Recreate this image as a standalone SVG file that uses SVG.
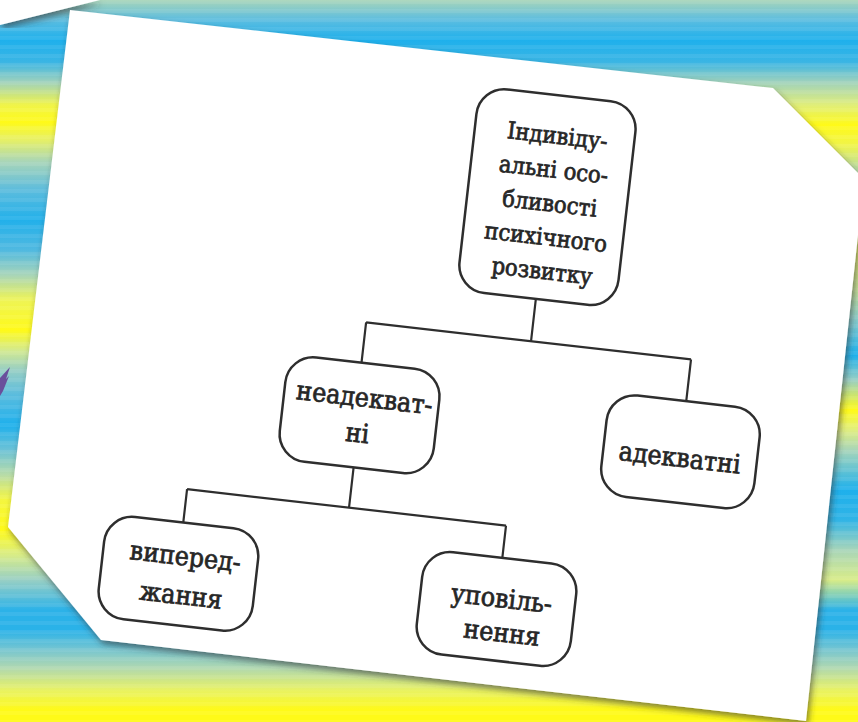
<svg xmlns="http://www.w3.org/2000/svg" width="858" height="722" viewBox="0 0 858 722">
<defs>
<linearGradient id="bgL" gradientUnits="userSpaceOnUse" x1="0" y1="0" x2="0" y2="722">
<stop offset="0" stop-color="#a8d5b9"/><stop offset=".0277" stop-color="#5cbde0"/><stop offset=".0554" stop-color="#1eb0ec"/><stop offset=".0859" stop-color="#3ab5e4"/><stop offset=".1136" stop-color="#a0d2bc"/><stop offset=".1454" stop-color="#f0f44a"/><stop offset=".169" stop-color="#fffa18"/><stop offset=".1939" stop-color="#e6f066"/><stop offset=".2244" stop-color="#a8d5b9"/><stop offset=".2632" stop-color="#5cbcdd"/><stop offset=".3047" stop-color="#22b0ea"/><stop offset=".3463" stop-color="#50b9e0"/><stop offset=".3809" stop-color="#a8d5b9"/><stop offset=".4155" stop-color="#eef456"/><stop offset=".4571" stop-color="#fffa18"/><stop offset=".4848" stop-color="#d4ea8e"/><stop offset=".5125" stop-color="#98cfc4"/><stop offset=".5471" stop-color="#5abcde"/><stop offset=".5886" stop-color="#1eb0ec"/><stop offset=".6233" stop-color="#6cc2d6"/><stop offset=".6579" stop-color="#b8dca8"/><stop offset=".6925" stop-color="#f4f640"/><stop offset=".7341" stop-color="#fffa18"/><stop offset=".7687" stop-color="#d8ec88"/><stop offset=".8033" stop-color="#98cfc4"/><stop offset=".8449" stop-color="#2cb2e8"/><stop offset=".8726" stop-color="#2ab2e8"/><stop offset=".9003" stop-color="#78c6d0"/><stop offset=".9252" stop-color="#b0d8b0"/><stop offset=".9557" stop-color="#e8f264"/><stop offset=".9834" stop-color="#fffa18"/><stop offset="1" stop-color="#fffa18"/>
</linearGradient>
<linearGradient id="bgR" gradientUnits="userSpaceOnUse" x1="0" y1="0" x2="0" y2="722">
<stop offset="0" stop-color="#a8d5b9"/><stop offset=".0277" stop-color="#5cbde0"/><stop offset=".0554" stop-color="#1eb0ec"/><stop offset=".0859" stop-color="#3ab5e4"/><stop offset=".1136" stop-color="#a0d2bc"/><stop offset=".1454" stop-color="#e0ee7a"/><stop offset=".1731" stop-color="#fffa18"/><stop offset=".2008" stop-color="#f0f44a"/><stop offset=".2355" stop-color="#b8dca8"/><stop offset=".3463" stop-color="#e6f066"/><stop offset=".4017" stop-color="#c8e49a"/><stop offset=".4432" stop-color="#88cccc"/><stop offset=".4917" stop-color="#1eb0ec"/><stop offset=".5263" stop-color="#98cfc4"/><stop offset=".5679" stop-color="#fffa18"/><stop offset=".5956" stop-color="#e0ee80"/><stop offset=".6233" stop-color="#a8d5b9"/><stop offset=".6787" stop-color="#1eb0ec"/><stop offset=".7202" stop-color="#30b4e6"/><stop offset=".7618" stop-color="#a8d5b9"/><stop offset=".8033" stop-color="#d8ec88"/><stop offset=".8449" stop-color="#2cb2e8"/><stop offset=".8726" stop-color="#2ab2e8"/><stop offset=".9003" stop-color="#78c6d0"/><stop offset=".9252" stop-color="#b0d8b0"/><stop offset=".9557" stop-color="#e8f264"/><stop offset=".9834" stop-color="#fffa18"/><stop offset="1" stop-color="#fffa18"/>
</linearGradient>
<pattern id="stripes" patternUnits="userSpaceOnUse" width="20" height="9">
<rect x="0" y="0" width="20" height="4" fill="#ffffff" fill-opacity="0.07"/>
</pattern>
<filter id="shadow" x="-10%" y="-10%" width="120%" height="120%">
<feDropShadow dx="2" dy="4" stdDeviation="3" flood-color="#333333" flood-opacity="0.6"/>
</filter>
<style>
.box{fill:#ffffff;stroke:#2e2e2e;stroke-width:2.5}
.conn{fill:none;stroke:#2e2e2e;stroke-width:2.2}
.t{font-family:"DejaVu Serif Condensed","DejaVu Serif",serif;fill:#262626;stroke:#262626;stroke-width:0.7;text-anchor:middle}
.t1{font-size:23.5px}
.t2{font-size:26.5px}
</style>
</defs>
<g id="background">
<rect x="0" y="0" width="430" height="722" fill="url(#bgL)"/>
<rect x="430" y="0" width="428" height="722" fill="url(#bgR)"/>
<rect x="0" y="0" width="858" height="722" fill="url(#stripes)"/>
<polygon points="0,378 10,367 6,379 9,376 3,391 0,396" fill="#6a4f9c"/>
<polygon points="0,0 100,0 0,25" fill="#ffffff" filter="url(#shadow)"/>
<polygon points="70,10 773,88 864,179 806,721 101,640 8,527" fill="#ffffff" filter="url(#shadow)"/>
</g>
<g id="diagram" transform="rotate(6.5 430 380)">
<g id="connectors">
<path class="conn" d="M526,287.5 V330 M360,330 H687 M360,330 V370.5 M687,330 V372"/>
<path class="conn" d="M364,475.5 V516 M201,516 H522 M201,516 V549.5 M522,516 V548.5"/>
</g>
<g id="node-root">
<rect class="box" x="446" y="82.5" width="160" height="205" rx="28"/>
<text class="t t1" x="529" y="131">Індивіду-</text>
<text class="t t1" x="529" y="165">альні осо-</text>
<text class="t t1" x="529" y="199">бливості</text>
<text class="t t1" x="529" y="233">психічного</text>
<text class="t t1" x="529" y="267">розвитку</text>
</g>
<g id="node-neadekvatni">
<rect class="box" x="286.5" y="370.5" width="155" height="105" rx="28"/>
<text class="t t2" x="367" y="414">неадекват-</text>
<text class="t t2" x="364" y="450">ні</text>
</g>
<g id="node-adekvatni">
<rect class="box" x="610" y="372" width="154" height="102" rx="28"/>
<text class="t t2" x="687" y="438">адекватні</text>
</g>
<g id="node-vyperedzhennia">
<rect class="box" x="124.5" y="549.5" width="155" height="103" rx="28"/>
<text class="t t2" x="207" y="592">виперед-</text>
<text class="t t2" x="207" y="631">жання</text>
</g>
<g id="node-upovilnennia">
<rect class="box" x="444.5" y="548.5" width="155" height="103" rx="28"/>
<text class="t t2" x="526" y="598">уповіль-</text>
<text class="t t2" x="530" y="632">нення</text>
</g>
</g>
</svg>
